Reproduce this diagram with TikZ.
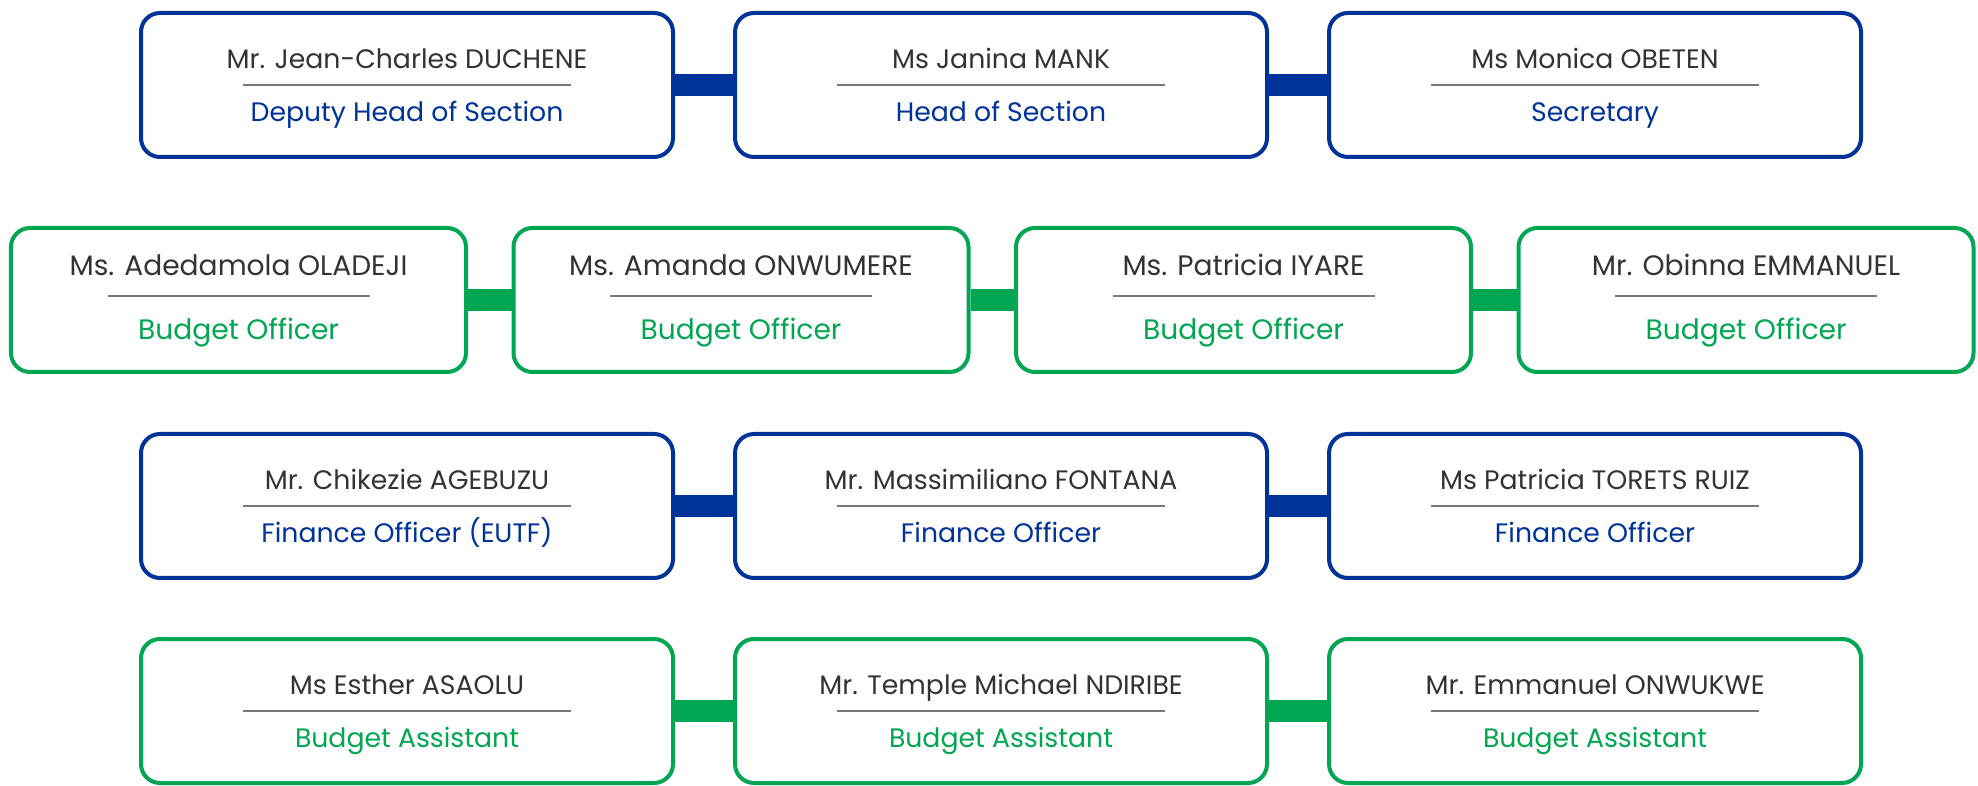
\documentclass[tikz,border=0pt]{standalone}
\usepackage{fontspec}
\setmainfont{Poppins}
\usepackage{tikz}
\usetikzlibrary{positioning}

\definecolor{euBlue}{RGB}{0,51,153}
\definecolor{euGreen}{RGB}{0,166,81}
\definecolor{nameGrey}{RGB}{51,51,51}
\definecolor{lineGrey}{RGB}{120,120,120}

\newcommand{\divline}[1]{{\color{lineGrey}\rule[2.75pt]{#1}{0.6pt}}}

\begin{document}
\begin{tikzpicture}[node distance={5.94cm},
  box/.style = {draw, rounded corners=0.19cm, line width=0.04cm, fill=white, minimum width=5.32cm, minimum height=1.44cm, align=center, text height=21pt, text depth=0pt, font=\fontsize{7.6}{7.55}\selectfont, text=nameGrey},
  narrow/.style = {minimum width=4.55cm, text height=22.2pt, font=\fontsize{8.0}{9.1}\selectfont},
  blue box/.style = {box, draw=euBlue},
  green box/.style = {box, draw=euGreen},
  blue bar/.style = {euBlue, line width=0.22cm},
  green bar/.style = {euGreen, line width=0.22cm}]
\useasboundingbox (0,0) rectangle (19.78,-7.86);

% management
\node[blue box] (1) at (4.07,-0.85) {Mr. Jean-Charles DUCHENE\\\divline{3.28cm}\\\textcolor{euBlue}{Deputy Head of Section}};
\node[blue box] (2) [right of=1] {Ms Janina MANK\\\divline{3.28cm}\\\textcolor{euBlue}{Head of Section}};
\node[blue box] (3) [right of=2] {Ms Monica OBETEN\\\divline{3.28cm}\\\textcolor{euBlue}{Secretary}};

% budget officers
\node[green box, narrow] (4) at (2.385,-3.0) {Ms. Adedamola OLADEJI\\\divline{2.62cm}\\\textcolor{euGreen}{Budget Officer}};
\node[green box, narrow] (5) [right of=4, node distance=5.025cm] {Ms. Amanda ONWUMERE\\\divline{2.62cm}\\\textcolor{euGreen}{Budget Officer}};
\node[green box, narrow] (6) [right of=5, node distance=5.025cm] {Ms. Patricia IYARE\\\divline{2.62cm}\\\textcolor{euGreen}{Budget Officer}};
\node[green box, narrow] (7) [right of=6, node distance=5.025cm] {Mr. Obinna EMMANUEL\\\divline{2.62cm}\\\textcolor{euGreen}{Budget Officer}};

% finance officers
\node[blue box] (8) at (4.07,-5.06) {Mr. Chikezie AGEBUZU\\\divline{3.28cm}\\\textcolor{euBlue}{Finance Officer (EUTF)}};
\node[blue box] (9) [right of=8] {Mr. Massimiliano FONTANA\\\divline{3.28cm}\\\textcolor{euBlue}{Finance Officer}};
\node[blue box] (10) [right of=9] {Ms Patricia TORETS RUIZ\\\divline{3.28cm}\\\textcolor{euBlue}{Finance Officer}};

% budget assistants
\node[green box] (11) at (4.07,-7.11) {Ms Esther ASAOLU\\\divline{3.28cm}\\\textcolor{euGreen}{Budget Assistant}};
\node[green box] (12) [right of=11] {Mr. Temple Michael NDIRIBE\\\divline{3.28cm}\\\textcolor{euGreen}{Budget Assistant}};
\node[green box] (13) [right of=12] {Mr. Emmanuel ONWUKWE\\\divline{3.28cm}\\\textcolor{euGreen}{Budget Assistant}};

\draw[blue bar] (1) -- (2);
\draw[blue bar] (2) -- (3);
\draw[green bar] (4) -- (5);
\draw[green bar] (5) -- (6);
\draw[green bar] (6) -- (7);
\draw[blue bar] (8) -- (9);
\draw[blue bar] (9) -- (10);
\draw[green bar] (11) -- (12);
\draw[green bar] (12) -- (13);

\end{tikzpicture}
\end{document}
